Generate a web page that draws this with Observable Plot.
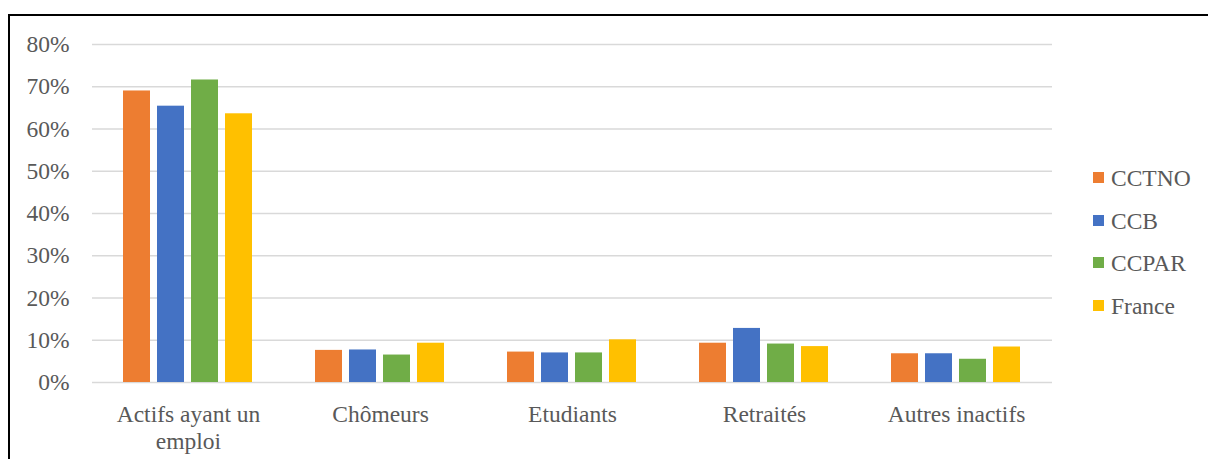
<!DOCTYPE html>
<html>
<head>
<meta charset="utf-8">
<script src="https://cdn.jsdelivr.net/npm/d3@7"></script>
<script src="https://cdn.jsdelivr.net/npm/@observablehq/plot@0.6"></script>
<style>
  html, body { margin: 0; padding: 0; background: #fff; }
  #wrap { position: relative; width: 1208px; height: 459px; overflow: hidden; }
  #frame { position: absolute; left: 8px; top: 14px; width: 1220px; height: 460px; border: 2px solid #000; box-sizing: border-box; }
  #chart { position: absolute; left: 0; top: 0; }
  #legend { position: absolute; left: 1093px; top: 165px; font-family: "Liberation Serif", "Times New Roman", serif; font-size: 23.5px; color: #595959; }
  .row { position: absolute; left: 0; white-space: nowrap; height: 26px; }
  .sw { position: absolute; left: 0; top: 7px; width: 11px; height: 11px; }
  .lb { position: absolute; left: 18px; top: 0; line-height: 26px; }
  #chart svg text { font-family: "Liberation Serif", "Times New Roman", serif; }
</style>
</head>
<body>
<div id="wrap">
  <div id="frame"></div>
  <div id="chart"></div>
  <div id="legend"></div>
</div>
<script>
const categories = ["Actifs ayant un emploi", "Chômeurs", "Etudiants", "Retraités", "Autres inactifs"];
const categoryLabels = ["Actifs ayant un\nemploi", "Chômeurs", "Etudiants", "Retraités", "Autres inactifs"];
const series = ["CCTNO", "CCB", "CCPAR", "France"];
const colors = ["#ED7D31", "#4472C4", "#70AD47", "#FFC000"];
const CCTNO  = [0.690, 0.076, 0.072, 0.093, 0.068];
const CCB    = [0.654, 0.077, 0.070, 0.128, 0.068];
const CCPAR  = [0.716, 0.065, 0.070, 0.091, 0.055];
const France = [0.636, 0.093, 0.101, 0.085, 0.084];
const yTicks = [0, 0.1, 0.2, 0.3, 0.4, 0.5, 0.6, 0.7, 0.8];

const valuesBySeries = {CCTNO, CCB, CCPAR, France};
const data = [];
categories.forEach((c, i) => series.forEach(s => data.push({category: c, series: s, value: valuesBySeries[s][i]})));

const chart = Plot.plot({
  width: 1208,
  height: 459,
  marginLeft: 91,
  marginRight: 156,
  marginTop: 44,
  marginBottom: 77,
  style: {fontFamily: "'Liberation Serif', 'Times New Roman', serif", fontSize: "23.5px", color: "#595959", background: "transparent"},
  fx: {domain: categories, paddingInner: 0, paddingOuter: 0, label: null},
  x: {domain: series, paddingInner: 0.2, paddingOuter: 0.87, axis: null},
  y: {domain: [0, 0.8], axis: null, label: null},
  color: {domain: series, range: colors},
  marks: [
    Plot.ruleY(yTicks, {stroke: "#D9D9D9", strokeWidth: 1.5}),
    Plot.barY(data, {fx: "category", x: "series", y: "value", fill: "series"}),
    Plot.axisY(yTicks, {tickSize: 0, tickPadding: 23, label: null, tickFormat: d => Math.round(d * 100) + "%", fill: "#595959"}),
    Plot.axisFx({anchor: "bottom", tickSize: 0, tickPadding: 20, lineHeight: 1.15, label: null,
      tickFormat: d => categoryLabels[categories.indexOf(d)], fill: "#595959"})
  ]
});
document.getElementById("chart").appendChild(chart);

const legend = document.getElementById("legend");
series.forEach((s, i) => {
  const row = document.createElement("div");
  row.className = "row";
  row.style.top = (i * 42.7) + "px";
  row.innerHTML = `<div class="sw" style="background:${colors[i]}"></div><div class="lb">${s}</div>`;
  legend.appendChild(row);
});
</script>
</body>
</html>
